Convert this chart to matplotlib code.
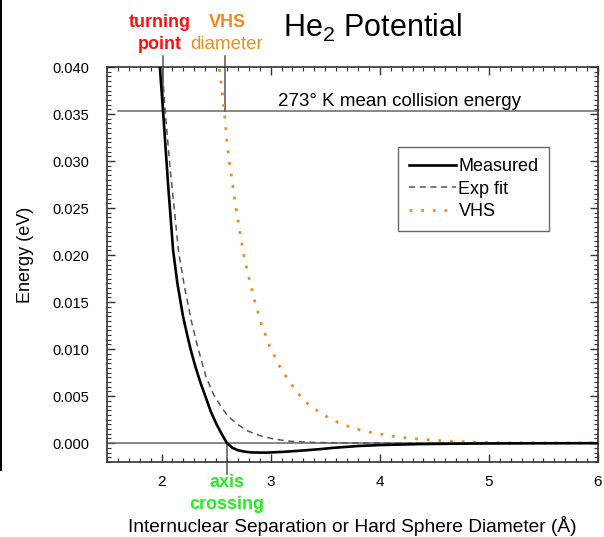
import matplotlib
matplotlib.use("Agg")
import matplotlib.pyplot as plt
from matplotlib.ticker import MultipleLocator, FormatStrFormatter
from matplotlib.lines import Line2D

plt.rcParams['font.family'] = ['Liberation Sans', 'DejaVu Sans']
plt.rcParams['mathtext.default'] = 'regular'

# ---- data ----
meas_x = [1.97, 1.985, 2.015, 2.06, 2.106, 2.145, 2.197, 2.235, 2.267, 2.309, 2.357, 2.412,
          2.45, 2.50, 2.55, 2.60, 2.65, 2.70, 2.76, 2.82, 2.9, 2.97, 3.1, 3.27,
          3.455, 3.57, 3.8, 4.0, 4.34, 4.7, 5.0, 5.5, 6.0]
meas_y = [0.0418, 0.0399, 0.0351, 0.0275, 0.0205, 0.0170, 0.01347, 0.0115, 0.00995,
          0.00818, 0.00642, 0.00466, 0.0034, 0.0021, 0.0010, 0.0, -0.0005,
          -0.00075, -0.0009, -0.00098, -0.001, -0.001, -0.00093, -0.0008, -0.00063,
          -0.0005, -0.0003, -0.0002, -0.0001, -0.00005, -0.00003, -0.00001, 0.0]

exp_x = [1.99, 2.006, 2.03, 2.08, 2.157, 2.212, 2.273, 2.334, 2.409, 2.48, 2.545, 2.606,
         2.697, 2.788, 2.909, 3.03, 3.18, 3.39, 3.7, 4.2, 5.0, 6.0]
exp_y = [0.0425, 0.0399, 0.0357, 0.0290, 0.0203, 0.0165, 0.0130, 0.0101, 0.0070, 0.0051,
         0.0039, 0.0029, 0.0020, 0.0013, 0.00078, 0.00044, 0.00020, 0.00008, 0.00002,
         0.0, 0.0, 0.0]

vhs_x = [2.52, 2.536, 2.575, 2.6, 2.627, 2.657, 2.688, 2.721, 2.757, 2.803, 2.855, 2.915,
         2.994, 3.097, 3.243, 3.336, 3.445, 3.545, 3.652, 3.757, 3.857, 3.964, 4.173,
         4.379, 4.59, 4.794, 5.09, 5.5, 6.0]
vhs_y = [0.0410, 0.0392, 0.0354, 0.0320, 0.02945, 0.02706, 0.02458, 0.02222, 0.01982,
         0.01746, 0.01506, 0.01267, 0.01023, 0.00783, 0.00537, 0.00423, 0.00331, 0.00261,
         0.00201, 0.00162, 0.00127, 0.00106, 0.00063, 0.00042, 0.00024, 0.00014,
         0.00005, 0.00002, 0.00001]

collision_energy = 0.0353
turning_point = 2.01
vhs_diameter = 2.58
axis_crossing = 2.60

W, H = 604, 537
fig = plt.figure(figsize=(W / 100, H / 100), dpi=100)
ax = fig.add_axes([107 / W, 1 - 462 / H, (598 - 107) / W, (462 - 67) / H])

def fx(px):
    return px / W

def fy(py):
    return 1 - py / H

orange = '#F08C1E'

ax.plot(meas_x, meas_y, color='black', lw=1.9, label='Measured', zorder=4,
        solid_joinstyle='round')
ax.plot(exp_x, exp_y, color='#555555', lw=1.1, ls=(0, (4, 3)), label='Exp fit', zorder=3)
ax.plot(vhs_x, vhs_y, color=orange, lw=2.0, ls=(0, (1, 3.2)), label='VHS', zorder=3)

# reference lines
ax.axhline(0.0, color='#666666', lw=1.1, zorder=2)
ax.plot([1.6, 6.0], [collision_energy, collision_energy], color='#666666', lw=1.1,
        zorder=2, clip_on=False)
ax.plot([turning_point, turning_point], [collision_energy, 0.0412], color='#555555',
        lw=1.1, clip_on=False, zorder=2)
ax.plot([vhs_diameter, vhs_diameter], [collision_energy, 0.0412], color='#555555',
        lw=1.1, clip_on=False, zorder=2)
ax.plot([axis_crossing, axis_crossing], [0.0, -0.0033], color='#555555', lw=1.1,
        clip_on=False, zorder=2)

ax.set_xlim(1.5, 6.0)
ax.set_ylim(-0.002, 0.040)
ax.xaxis.set_major_locator(MultipleLocator(1))
ax.xaxis.set_minor_locator(MultipleLocator(0.1))
ax.yaxis.set_major_locator(MultipleLocator(0.005))
ax.yaxis.set_minor_locator(MultipleLocator(0.0005))
ax.yaxis.set_major_formatter(FormatStrFormatter('%.3f'))
ax.tick_params(which='both', direction='in', top=True, right=True, color='#333333')
ax.tick_params(which='major', length=6, width=1.0)
ax.tick_params(which='minor', length=3, width=0.8)
ax.tick_params(axis='y', which='major', labelsize=10.5, pad=13)
ax.tick_params(axis='x', which='major', labelsize=11, pad=9)
for s in ax.spines.values():
    s.set_color('#333333')
    s.set_linewidth(1.2)

fig.text(fx(352), fy(532), 'Internuclear Separation or Hard Sphere Diameter (Å)',
         fontsize=13.8, ha='center', va='baseline')
fig.text(fx(26), fy(255), 'Energy (eV)', fontsize=13, rotation=90,
         ha='center', va='center')

leg = ax.legend(loc='upper left', bbox_to_anchor=(fx(398), fy(147)),
                bbox_transform=fig.transFigure, fontsize=13, frameon=True,
                fancybox=False, edgecolor='#444444', handlelength=2.6,
                handletextpad=0.15, borderpad=0.6, labelspacing=0.32,
                borderaxespad=0)
leg.get_frame().set_linewidth(1.0)

# annotations
fig.text(fx(373), fy(37), 'He$_2$ Potential', fontsize=22, ha='center', va='baseline')
fig.text(fx(160), fy(27), 'turning', fontsize=13, fontweight='bold', color='#FF1010',
         ha='center', va='baseline')
fig.text(fx(160), fy(49), 'point', fontsize=13, fontweight='bold', color='#FF1010',
         ha='center', va='baseline')
fig.text(fx(227), fy(27), 'VHS', fontsize=13, fontweight='bold', color=orange,
         ha='center', va='baseline')
fig.text(fx(227), fy(49), 'diameter', fontsize=13.5, color=orange,
         ha='center', va='baseline')
fig.text(fx(399), fy(106), '273° K mean collision energy', fontsize=13.5,
         ha='center', va='baseline')
fig.text(fx(227), fy(487), 'axis', fontsize=13, fontweight='bold', color='#22EE22',
         ha='center', va='baseline')
fig.text(fx(227), fy(509), 'crossing', fontsize=13, fontweight='bold', color='#22EE22',
         ha='center', va='baseline')

fig.add_artist(Line2D([0.0015, 0.0015], [fy(470), 1.0], transform=fig.transFigure,
                      color='black', lw=1.5))

fig.savefig('out.png', dpi=100)
